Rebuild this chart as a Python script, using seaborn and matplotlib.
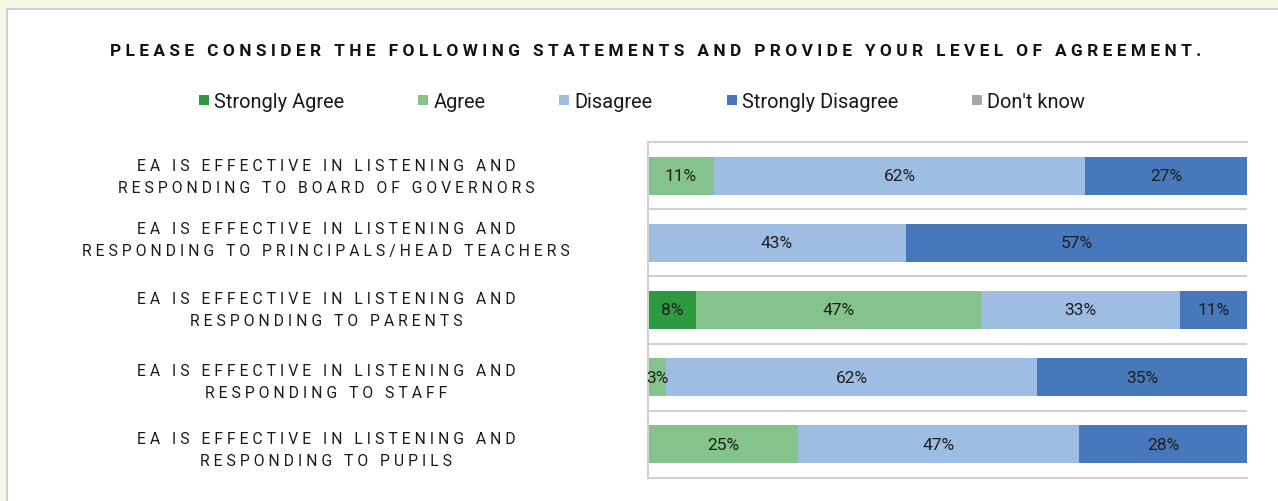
import numpy as np
import matplotlib
matplotlib.use("Agg")
import matplotlib.pyplot as plt
import matplotlib.transforms as mtransforms
import seaborn as sns
from matplotlib.lines import Line2D
from matplotlib.patches import Rectangle

title = "PLEASE CONSIDER THE FOLLOWING STATEMENTS AND PROVIDE YOUR LEVEL OF AGREEMENT."

statements = [
    "EA IS EFFECTIVE IN LISTENING AND\nRESPONDING TO BOARD OF GOVERNORS",
    "EA IS EFFECTIVE IN LISTENING AND\nRESPONDING TO PRINCIPALS/HEAD TEACHERS",
    "EA IS EFFECTIVE IN LISTENING AND\nRESPONDING TO PARENTS",
    "EA IS EFFECTIVE IN LISTENING AND\nRESPONDING TO STAFF",
    "EA IS EFFECTIVE IN LISTENING AND\nRESPONDING TO PUPILS",
]
levels = ["Strongly Agree", "Agree", "Disagree", "Strongly Disagree", "Don't know"]

strongly_agree = [0, 0, 8, 0, 0]
agree = [11, 0, 47, 3, 25]
disagree = [62, 43, 33, 62, 47]
strongly_disagree = [27, 57, 11, 35, 28]
dont_know = [0, 0, 0, 0, 0]

colors = ["#2e9a40", "#85c38c", "#9fbce3", "#4678bb", "#a6a6a6"]

W, H = 1278, 502
# vertical nudges (pixels, upwards) of the category labels
label_nudge_px = [-1.0, 3.0, 0.5, -4.5, -5.0]


def spaced(text, gap="\u2005"):
    """Letter-spaced version of a (possibly multi-line) string."""
    return "\n".join(gap.join(line) for line in text.split("\n"))


sns.set_theme(style="white")
plt.rcParams["font.family"] = ["Roboto", "DejaVu Sans"]

fig = plt.figure(figsize=(W / 100, H / 100), dpi=100, facecolor="#f6f7e4")
fig.add_artist(Rectangle((7 / W, -0.1), 1.2, (1 - 10 / H) + 0.1,
                         transform=fig.transFigure, facecolor="white",
                         edgecolor="#cfcfcf", lw=1.5, zorder=0))

ax = fig.add_axes([648 / W, 1 - 479 / H, 599 / W, 336 / H])
ax.set_facecolor("white")

series = np.array([strongly_agree, agree, disagree, strongly_disagree, dont_know], dtype=float)
shares = series / series.sum(axis=0) * 100
cum = np.cumsum(shares, axis=0)

# stacked bars: draw cumulative totals from the outermost segment inwards
for i in reversed(range(len(levels))):
    sns.barplot(x=cum[i], y=statements, orient="h", color=colors[i],
                saturation=1, width=0.565, linewidth=0, ax=ax)

for i in range(len(levels)):
    for j in range(len(statements)):
        v = series[i, j]
        if v > 0:
            ax.text(cum[i, j] - shares[i, j] / 2, j, f"{int(v)}%",
                    ha="center", va="center", fontsize=12.5, color="#1e1e1e")

ax.set_xlim(0, 100)
ax.set_xticks([])
ax.set_ylim(len(statements) - 0.5, -0.5)
ax.set_yticks(range(len(statements)), labels=[""] * len(statements))
ax.set_yticks(np.arange(0.5, len(statements) - 0.5, 1), minor=True)
ax.tick_params(axis="y", which="both", length=0)
ax.grid(False)
ax.grid(axis="y", which="minor", color="#d0d0d0", lw=1.5)
ax.set_xlabel("")
ax.set_ylabel("")
for side in ["left", "top", "bottom"]:
    ax.spines[side].set_color("#d0d0d0")
    ax.spines[side].set_linewidth(1.5)
ax.spines["right"].set_visible(False)

# category labels, centred in the left half of the panel
label_tf = mtransforms.blended_transform_factory(fig.transFigure, ax.transData)
for j, s in enumerate(statements):
    tf = label_tf + mtransforms.ScaledTranslation(0, label_nudge_px[j] / 100,
                                                  fig.dpi_scale_trans)
    ax.text(326 / W, j, spaced(s), transform=tf, ha="center", va="center",
            multialignment="center", linespacing=1.55, fontsize=11.3,
            color="#1a1a1a", clip_on=False)

fig.text(656 / W, 1 - 51 / H, spaced(title), ha="center", va="center",
         fontsize=12.4, fontweight="bold", color="#111111")

handles = [Line2D([], [], marker="s", ls="none", markersize=7.2,
                  markerfacecolor=c, markeredgewidth=0) for c in colors]
fig.legend(handles, levels, loc="center", bbox_to_anchor=(642 / W, 1 - 102 / H),
           ncol=5, frameon=False, fontsize=14.4, handlelength=0.5,
           handletextpad=0.25, columnspacing=3.7, labelcolor="#1a1a1a")

fig.savefig("out.png", dpi=100, facecolor=fig.get_facecolor())
